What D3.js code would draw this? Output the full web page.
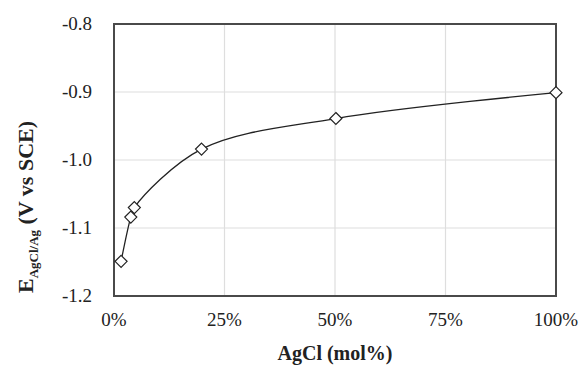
<!DOCTYPE html>
<html>
<head>
<meta charset="utf-8">
<script src="https://cdn.jsdelivr.net/npm/d3@7"></script>
</head>
<body style="margin:0; font-family: 'Times New Roman', 'Liberation Serif', serif">
<script>
// Data
let agclPct = [1.6, 3.8, 4.6, 19.8, 50.2, 100];
let potential = [-1.149, -1.084, -1.070, -0.984, -0.939, -0.901];
let xTicks = [0, 25, 50, 75, 100];
let yTicks = [-0.8, -0.9, -1.0, -1.1, -1.2];

let svgWidth = 587;
let svgHeight = 370;
let margin = { top: 24, right: 31, bottom: 74, left: 114 };
let chartWidth = svgWidth - margin.left - margin.right;
let chartHeight = svgHeight - margin.top - margin.bottom;
let serif = '"Times New Roman"';

let svg = d3.select("body")
  .append("svg")
  .attr("width", svgWidth)
  .attr("height", svgHeight)
  .style("font-family", serif);

let chart = svg.append("g")
  .attr("transform", `translate(${margin.left}, ${margin.top})`);

let x = d3.scaleLinear().domain([0, 100]).range([0, chartWidth]);
let y = d3.scaleLinear().domain([-1.2, -0.8]).range([chartHeight, 0]);

// gridlines
chart.append("g")
  .selectAll("line")
  .data(xTicks.slice(1, -1))
  .enter().append("line")
  .attr("x1", d => x(d)).attr("x2", d => x(d))
  .attr("y1", 0).attr("y2", chartHeight)
  .attr("stroke", "#dedede").attr("stroke-width", 1.2);

chart.append("g")
  .selectAll("line")
  .data(yTicks.slice(1, -1))
  .enter().append("line")
  .attr("y1", d => y(d)).attr("y2", d => y(d))
  .attr("x1", 0).attr("x2", chartWidth)
  .attr("stroke", "#dedede").attr("stroke-width", 1.2);

// tick labels, drawn from the scales
chart.selectAll(".xlab")
  .data(xTicks)
  .enter().append("text")
  .attr("class", "xlab")
  .attr("x", d => x(d))
  .attr("y", chartHeight + 30)
  .attr("text-anchor", "middle")
  .style("font-family", d => serif)
  .style("font-size", "19px")
  .style("fill", "#222")
  .text(d => d + "%");

chart.selectAll(".ylab")
  .data(yTicks)
  .enter().append("text")
  .attr("class", "ylab")
  .attr("x", -22)
  .attr("y", d => y(d) + 6)
  .attr("text-anchor", "end")
  .style("font-family", d => serif)
  .style("font-size", "19px")
  .style("fill", "#222")
  .text(d => d.toFixed(1));

// frame
chart.append("rect")
  .attr("width", chartWidth).attr("height", chartHeight)
  .attr("fill", "none").attr("stroke", "#4a4a4a").attr("stroke-width", 2);

// smooth curve through points
let pts = agclPct.map((d, i) => [d, potential[i]]);
chart.append("path")
  .datum(pts)
  .attr("fill", "none")
  .attr("stroke", "#222")
  .attr("stroke-width", 1.3)
  .attr("d", d3.line().x(d => x(d[0])).y(d => y(d[1])).curve(d3.curveCatmullRom.alpha(0.5)));

// diamond markers
chart.selectAll(".pt")
  .data(pts)
  .enter().append("path")
  .attr("class", "pt")
  .attr("transform", d => `translate(${x(d[0])}, ${y(d[1])})`)
  .attr("d", "M0,-6L6,0L0,6L-6,0Z")
  .attr("fill", "#fff")
  .attr("stroke", "#222")
  .attr("stroke-width", 1.2);

// x title
chart.append("text")
  .attr("x", chartWidth / 2)
  .attr("y", chartHeight + 64)
  .attr("text-anchor", "middle")
  .style("font-family", serif)
  .style("font-size", "20px")
  .style("font-weight", "bold")
  .style("fill", "#222")
  .text("AgCl (mol%)");

// y title
let yt = svg.append("text")
  .attr("transform", `translate(33, 207) rotate(-90)`)
  .attr("text-anchor", "middle")
  .style("font-family", serif)
  .style("font-size", "22px")
  .style("font-weight", "bold")
  .style("fill", "#222");
yt.append("tspan").text("E");
yt.append("tspan").attr("dy", 5).style("font-size", "13px").text("AgCl/Ag");
yt.append("tspan").attr("dy", -5).text(" (V vs SCE)");
</script>
</body>
</html>
